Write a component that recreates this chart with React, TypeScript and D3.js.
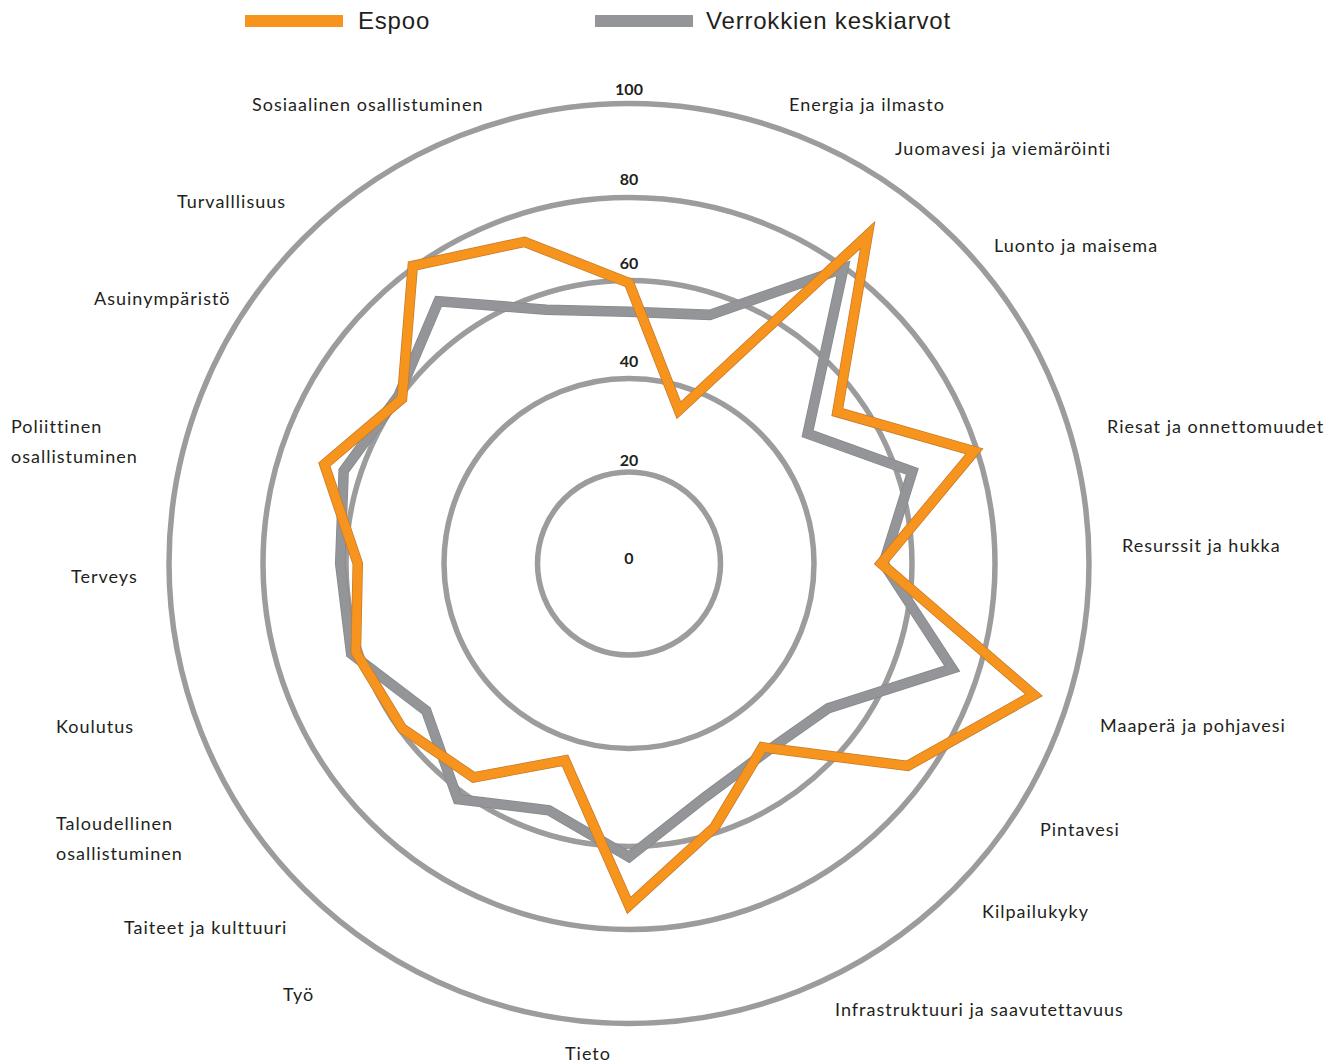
import React from "react";
import * as d3 from "d3";

// ---------- data ----------
const categories: string[] = [
  "Energia ja ilmasto",
  "Juomavesi ja viemäröinti",
  "Luonto ja maisema",
  "Riesat ja onnettomuudet",
  "Resurssit ja hukka",
  "Maaperä ja pohjavesi",
  "Pintavesi",
  "Kilpailukyky",
  "Infrastruktuuri ja saavutettavuus",
  "Tieto",
  "Työ",
  "Taiteet ja kulttuuri",
  "Taloudellinen\nosallistuminen",
  "Koulutus",
  "Terveys",
  "Poliittinen\nosallistuminen",
  "Asuinympäristö",
  "Turvalllisuus",
  "Sosiaalinen osallistuminen",
];

const espooValues: number[] = [
  59.5, 34.9, 88.5, 54.8, 79.3, 53.7, 92.7, 74.8, 48.6, 58.8,
  74.2, 44.5, 56.2, 59.5, 61.0, 57.6, 69.0, 59.5, 80.4, 73.3,
];

const verrokkiValues: number[] = [
  53.6, 55.6, 79.7, 47.3, 63.6, 54.2, 73.7, 52.5, 49.8, 52.4,
  62.5, 55.2, 62.0, 53.4, 62.2, 61.4, 64.1, 60.5, 69.9, 56.7,
];

const ringTicks: number[] = [0, 20, 40, 60, 80, 100];
const seriesNames: string[] = ["Espoo", "Verrokkien keskiarvot"];

// ---------- layout ----------
const W = 1341;
const H = 1064;
const CX = 629;
const CY = 563.5;
// ring radii as drawn in the original (the rings are not evenly spaced)
const ringRadii: number[] = [0, 91.5, 185, 283, 366, 460];
// vertical lift of each ring label above its ring top (centre of glyph)
const ringLabelLift: number[] = [4, 10.5, 16, 16, 16.5, 13];

// label text anchor offsets relative to chart centre (start-anchored)
const labelOffsets: [number, number][] = [
  [160, -459.5],
  [266, -415.5],
  [365, -318.5],
  [478, -137.5],
  [493, -18.5],
  [471, 161.5],
  [411, 265.5],
  [353, 347.5],
  [206, 445.5],
  [-64, 489.5],
  [-346, 430.5],
  [-505, 363.5],
  [-573, 259.5],
  [-573, 162.5],
  [-558, 12.5],
  [-618, -137.5],
  [-535, -265.5],
  [-452, -362.5],
  [-377, -459.5],
];

const legendX: number[] = [245, 595];
const ORANGE = "#F7941D";
const ORANGE_EDGE = "#C47A2C";
const GREY = "#939598";
const GREY_EDGE = "#86888b";
const RING = "#9c9c9c";
const TEXT = "#231f20";

export default function App() {
  const r = d3.scaleLinear().domain(ringTicks).range(ringRadii);
  const n = espooValues.length;
  const line = d3
    .lineRadial<number>()
    .angle((_, i) => (i * 2 * Math.PI) / n)
    .radius((d) => r(d))
    .curve(d3.curveLinearClosed);

  const espooPath = line(espooValues) || "";
  const verrokkiPath = line(verrokkiValues) || "";

  return (
    <svg
      width={W}
      height={H}
      style={{ position: "absolute", left: 0, top: 0, background: "#fff" }}
      fontFamily="Lato, 'Open Sans', sans-serif"
    >
      {/* legend */}
      {seriesNames.map((name, i) => (
        <g key={name}>
          <rect
            x={legendX[i]}
            y={15}
            width={98}
            height={12}
            fill={i === 0 ? ORANGE : GREY}
          />
          <text
            x={legendX[i] + (i === 0 ? 113 : 111)}
            y={23}
            dominantBaseline="middle"
            fontSize={24}
            letterSpacing={0.8}
            fill={TEXT}
            fontFamily="'Liberation Sans', Arial, sans-serif"
          >
            {name}
          </text>
        </g>
      ))}

      <g transform={`translate(${CX},${CY})`}>
        {/* rings */}
        {ringTicks
          .filter((t) => t > 0)
          .map((t) => (
            <circle
              key={t}
              r={r(t)}
              fill="none"
              stroke={RING}
              strokeWidth={5.5}
            />
          ))}

        {/* verrokki series */}
        <path
          d={verrokkiPath}
          fill="none"
          stroke={GREY_EDGE}
          strokeWidth={10.5}
          strokeLinejoin="miter"
          strokeMiterlimit={10}
        />
        <path
          d={verrokkiPath}
          fill="none"
          stroke={GREY}
          strokeWidth={9}
          strokeLinejoin="miter"
          strokeMiterlimit={10}
        />

        {/* espoo series */}
        <path
          d={espooPath}
          fill="none"
          stroke={ORANGE_EDGE}
          strokeWidth={10.5}
          strokeLinejoin="miter"
          strokeMiterlimit={10}
        />
        <path
          d={espooPath}
          fill="none"
          stroke={ORANGE}
          strokeWidth={9}
          strokeLinejoin="miter"
          strokeMiterlimit={10}
        />

        {/* ring labels */}
        {ringTicks.map((t, i) => (
          <text
            key={t}
            x={0}
            y={-r(t) - ringLabelLift[i]}
            textAnchor="middle"
            dominantBaseline="middle"
            fontSize={16}
            fontWeight={700}
            fill={TEXT}
          >
            {t}
          </text>
        ))}
      </g>

      {/* category labels */}
      {categories.map((c, i) => {
        const [dx, dy] = labelOffsets[i];
        const lines = c.split("\n");
        return (
          <text
            key={c}
            x={CX + dx}
            y={CY + dy + 2}
            dominantBaseline="middle"
            fontSize={18}
            letterSpacing={1}
            fill={TEXT}
          >
            {lines.map((l, j) => (
              <tspan key={j} x={CX + dx} dy={j === 0 ? 0 : 29.5}>
                {l}
              </tspan>
            ))}
          </text>
        );
      })}
    </svg>
  );
}
